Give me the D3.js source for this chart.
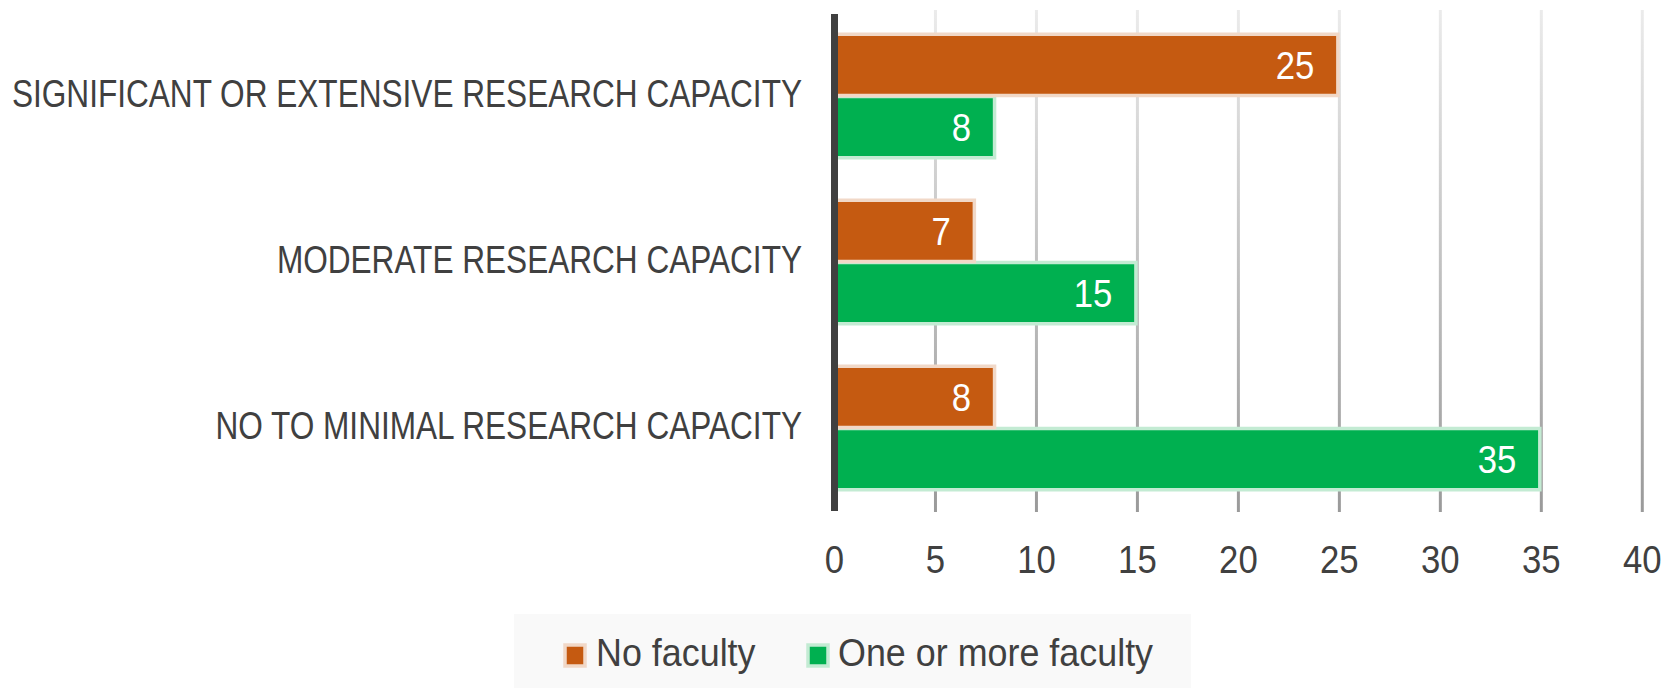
<!DOCTYPE html>
<html>
<head>
<meta charset="utf-8">
<script src="https://cdn.jsdelivr.net/npm/d3@7"></script>
<style>
  html, body { margin: 0; padding: 0; background: #ffffff; }
  svg { display: block; }
  text { font-family: "Liberation Sans", Arial, sans-serif; fill: #404040; }
</style>
</head>
<body>
<svg id="chart" width="1668" height="688"></svg>
<script>
// ---- data ----
const categories = [
  "SIGNIFICANT OR EXTENSIVE RESEARCH CAPACITY",
  "MODERATE RESEARCH CAPACITY",
  "NO TO MINIMAL RESEARCH CAPACITY"
];
const seriesNames = ["No faculty", "One or more faculty"];
const noFaculty = [25, 7, 8];
const oneOrMoreFaculty = [8, 15, 35];
const xTickValues = [0, 5, 10, 15, 20, 25, 30, 35, 40];

// ---- styles / layout ----
const colors = { "No faculty": "#C55A11", "One or more faculty": "#00B050" };
const halo = { "No faculty": "#F1D8C7", "One or more faculty": "#C3EBD3" };
const fontSize = 39;
const catScale = 0.81, numScale = 0.89, legScale = 0.92;

const svg = d3.select("#chart");
const W = 1668, H = 688;

const x = d3.scaleLinear().domain([0, 40]).range([834.5, 1642.3]);
const y = d3.scaleBand().domain(categories).range([13, 511])
  .paddingInner(0.25).paddingOuter(0.125);
const ySub = d3.scaleBand().domain(seriesNames).range([0, y.bandwidth()]);

const table = categories.map((c, i) => ({
  cat: c,
  values: [
    { name: seriesNames[0], value: noFaculty[i] },
    { name: seriesNames[1], value: oneOrMoreFaculty[i] }
  ]
}));

// gradient for gridlines
const defs = svg.append("defs");
const grad = defs.append("linearGradient").attr("id", "gridGrad")
  .attr("gradientUnits", "userSpaceOnUse")
  .attr("x1", 0).attr("y1", 10).attr("x2", 0).attr("y2", 511);
grad.append("stop").attr("offset", 0).attr("stop-color", "#EBEBEB");
grad.append("stop").attr("offset", 1).attr("stop-color", "#9A9A9A");

// gridlines
svg.append("g").selectAll("line")
  .data(xTickValues.filter(d => d !== 0))
  .join("line")
  .attr("x1", d => x(d)).attr("x2", d => x(d))
  .attr("y1", 10).attr("y2", 512)
  .attr("stroke", "url(#gridGrad)")
  .attr("stroke-width", 3);

// bars: draw green first then orange so orange halo sits on top
const groups = svg.append("g").selectAll("g.cat")
  .data(table).join("g").attr("class", "cat")
  .attr("transform", d => `translate(0,${y(d.cat)})`);

const drawOrder = [seriesNames[1], seriesNames[0]];
drawOrder.forEach(sn => {
  groups.each(function(d) {
    const v = d.values.find(e => e.name === sn);
    d3.select(this).append("rect")
      .attr("x", x(0))
      .attr("y", ySub(sn) + 0.5)
      .attr("width", x(v.value) - x(0) - 1.5)
      .attr("height", ySub.bandwidth() - 1)
      .attr("fill", colors[sn])
      .attr("stroke", halo[sn])
      .attr("stroke-width", 3.5);
  });
});

// data labels
groups.each(function(d) {
  const g = d3.select(this);
  d.values.forEach(v => {
    const cy = ySub(v.name) + ySub.bandwidth() / 2;
    g.append("text")
      .attr("transform", `translate(${x(v.value) - 25},${cy + 14}) scale(${numScale},1)`)
      .attr("text-anchor", "end")
      .attr("font-size", fontSize)
      .style("fill", "#ffffff")
      .text(v.value);
  });
});

// vertical axis line
svg.append("line")
  .attr("x1", x(0)).attr("x2", x(0))
  .attr("y1", 14).attr("y2", 511)
  .attr("stroke", "#404040").attr("stroke-width", 7);

// category labels
svg.append("g").selectAll("text")
  .data(categories).join("text")
  .attr("transform", d => `translate(802,${y(d) + y.bandwidth() / 2 + 11}) scale(${catScale},1)`)
  .attr("text-anchor", "end")
  .attr("font-size", fontSize)
  .text(d => d);

// x tick labels
svg.append("g").selectAll("text")
  .data(xTickValues).join("text")
  .attr("transform", d => `translate(${x(d)},573) scale(${numScale},1)`)
  .attr("text-anchor", "middle")
  .attr("font-size", fontSize)
  .text(d => d);

// legend
const leg = svg.append("g");
leg.append("rect").attr("x", 514).attr("y", 614).attr("width", 677).attr("height", 74)
  .attr("fill", "#F9F9F9");
const legItems = [
  { name: seriesNames[0], sx: 565, tx: 596 },
  { name: seriesNames[1], sx: 808, tx: 838 }
];
legItems.forEach(it => {
  leg.append("rect")
    .attr("x", it.sx).attr("y", 645).attr("width", 20).attr("height", 21)
    .attr("fill", colors[it.name])
    .attr("stroke", halo[it.name]).attr("stroke-width", 3.5);
  leg.append("text")
    .attr("transform", `translate(${it.tx},666) scale(${legScale},1)`)
    .attr("font-size", fontSize)
    .text(it.name);
});
</script>
</body>
</html>
